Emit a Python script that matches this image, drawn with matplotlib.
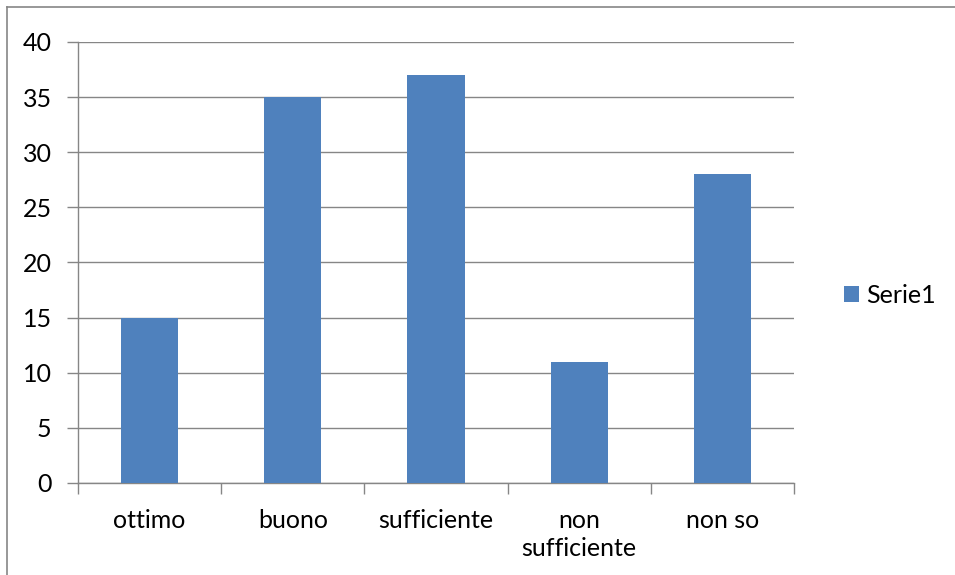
import numpy as np
import matplotlib
matplotlib.use('Agg')
from matplotlib import pyplot as plt
from matplotlib.lines import Line2D

categorie = ['ottimo', 'buono', 'sufficiente', 'non\nsufficiente', 'non so']
serie1 = [15, 35, 37, 11, 28]
yticks = [0, 5, 10, 15, 20, 25, 30, 35, 40]

plt.rcParams['font.family'] = ['Lato', 'DejaVu Sans']
grey = '#868686'

fig = plt.figure(figsize=(9.55, 5.75), dpi=100)
ax = fig.add_axes([0.0817, 0.16, 0.7497, 0.767])

x = np.arange(len(categorie))
ax.bar(x, serie1, width=0.4, color='#4F81BD', label='Serie1', zorder=3)

ax.set_xlim(-0.5, len(categorie) - 0.5)
ax.set_ylim(0, 40)
ax.set_yticks(yticks)
ax.yaxis.grid(True, color=grey, linewidth=1.0, zorder=0)

# tick marks at category boundaries, labels centred
ax.set_xticks(np.arange(-0.5, len(categorie), 1.0))
ax.set_xticklabels([])
ax.set_xticks(x, minor=True)
ax.set_xticklabels(categorie, minor=True, fontsize=18, linespacing=1.25)
ax.tick_params(axis='x', which='minor', length=0, pad=19)
ax.tick_params(axis='x', which='major', length=8, color=grey, width=1)
ax.tick_params(axis='y', length=8, color=grey, width=1, labelsize=18, pad=11)
for lab in ax.get_xticklabels(minor=True):
    lab.set_verticalalignment('top')

for s in ['top', 'right']:
    ax.spines[s].set_visible(False)
for s in ['left', 'bottom']:
    ax.spines[s].set_color(grey)
    ax.spines[s].set_linewidth(1.0)

ax.legend(loc='center left', bbox_to_anchor=(1.0, 0.425), frameon=False,
          fontsize=18, handlelength=0.6, handleheight=0.6, handletextpad=0.3,
          borderaxespad=1.6)

# outer chart frame
fig.add_artist(Line2D([7/955, 1.0], [1 - 7/575, 1 - 7/575], color=grey, linewidth=1.2))
fig.add_artist(Line2D([7/955, 7/955], [0.0, 1 - 7/575], color=grey, linewidth=1.2))

plt.savefig('out.png', dpi=100)
